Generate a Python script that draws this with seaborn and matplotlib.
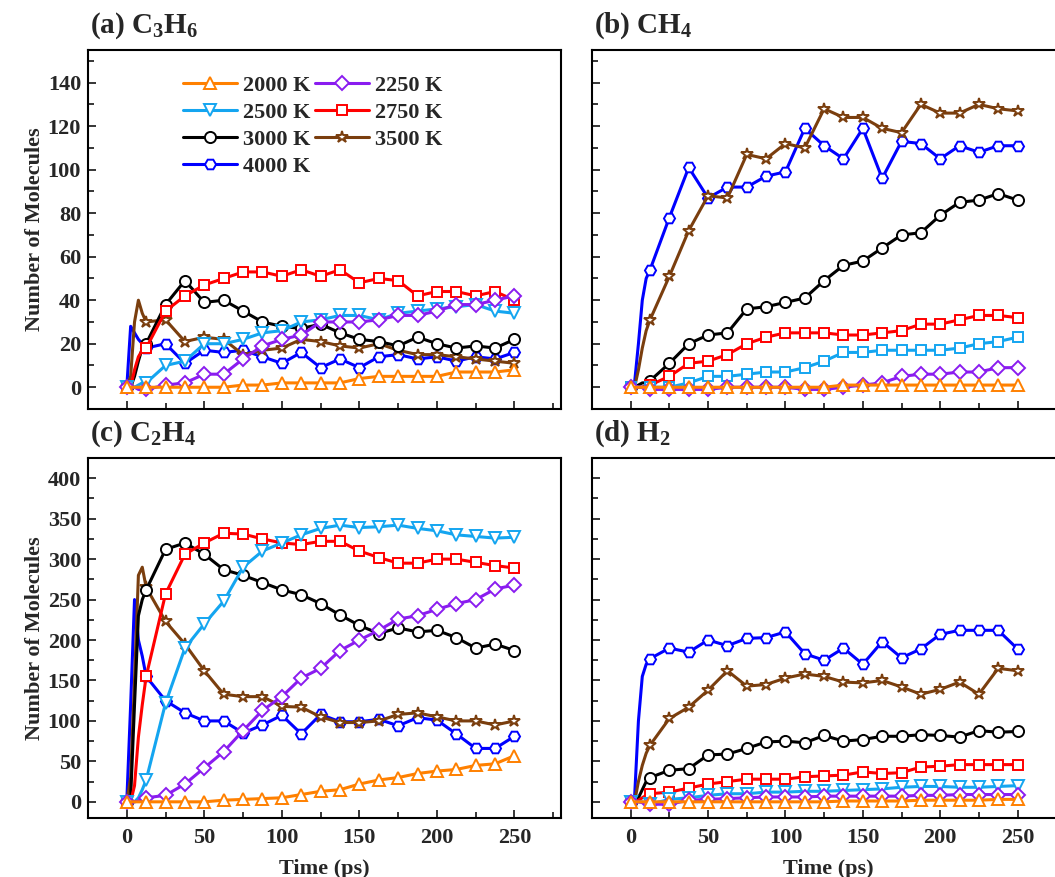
import numpy as np
import pandas as pd
import matplotlib
matplotlib.use("Agg")
import matplotlib.pyplot as plt
from matplotlib.lines import Line2D
from matplotlib.ticker import MultipleLocator
import seaborn as sns

sns.set_theme(style="ticks")
plt.rcParams['font.family'] = ['Liberation Serif', 'DejaVu Serif']
plt.rcParams['font.weight'] = 'bold'
plt.rcParams['mathtext.fontset'] = 'custom'
plt.rcParams['mathtext.rm'] = 'Liberation Serif:bold'
plt.rcParams['mathtext.it'] = 'Liberation Serif:bold'
plt.rcParams['mathtext.bf'] = 'Liberation Serif:bold'
plt.rcParams['mathtext.default'] = 'rm'

# ---------------- data ----------------
time_ps = [0, 2.5, 5, 7.5, 10, 12.5, 25, 37.5, 50, 62.5, 75, 87.5, 100, 112.5,
           125, 137.5, 150, 162.5, 175, 187.5, 200, 212.5, 225, 237.5, 250]
temperatures = ["2000 K", "2250 K", "2500 K", "2750 K", "3000 K", "3500 K", "4000 K"]
panel_titles = [r"(a) C$_3$H$_6$", r"(b) CH$_4$", r"(c) C$_2$H$_4$", r"(d) H$_2$"]

# (a) C3H6
c3h6_2000 = [0, 0, 0, 0, 0, 0, 0, 0, 0, 0, 1, 1, 2, 2, 2, 2, 4, 5, 5, 5, 5, 7, 7, 7, 8]
c3h6_2250 = [0, 0, 0, -1, -1, -1, 1, 2, 6, 6, 13, 19, 22, 24, 30, 30, 30, 31, 33, 33, 35, 38, 38, 40, 42]
c3h6_2500 = [0, 0, 0, 1, 2, 2, 10, 12, 20, 20, 22, 25, 26, 30, 31, 33, 33, 31, 34, 35, 36, 37, 38, 35, 34]
c3h6_2750 = [0, 0, 8, 14, 17, 18, 35, 42, 47, 50, 53, 53, 51, 54, 51, 54, 48, 50, 49, 42, 44, 44, 42, 44, 40]
c3h6_3000 = [0, 0, 5, 12, 18, 20, 38, 49, 39, 40, 35, 30, 28, 27, 29, 25, 22, 21, 19, 23, 20, 18, 19, 18, 22]
c3h6_3500 = [0, 5, 30, 40, 34, 30, 31, 21, 23, 22, 15, 17, 18, 22, 21, 19, 18, 20, 17, 15, 15, 14, 13, 12, 11]
c3h6_4000 = [0, 28, 25, 22, 20, 18, 20, 11, 17, 16, 17, 14, 11, 16, 9, 13, 9, 14, 15, 13, 14, 12, 14, 13, 16]

# (b) CH4
ch4_2000 = [0, 0, 0, 0, 0, 0, 0, 0, 0, 0, 0, 0, 0, 0, 0, 1, 1, 1, 1, 1, 1, 1, 1, 1, 1]
ch4_2250 = [0, 0, 0, 0, 0, -1, -1, -1, -1, 0, 0, 0, 0, -1, -1, 0, 1, 2, 5, 6, 6, 7, 7, 9, 9]
ch4_2500 = [0, 0, 0, 0, 0, 0, 0, 2, 5, 5, 6, 7, 7, 9, 12, 16, 16, 17, 17, 17, 17, 18, 20, 21, 23]
ch4_2750 = [0, 0, 0, 0, 1, 1, 5, 11, 12, 15, 20, 23, 25, 25, 25, 24, 24, 25, 26, 29, 29, 31, 33, 33, 32]
ch4_3000 = [0, 0, 1, 2, 2, 3, 11, 20, 24, 25, 36, 37, 39, 41, 49, 56, 58, 64, 70, 71, 79, 85, 86, 89, 86]
ch4_3500 = [0, 0, 8, 18, 26, 31, 51, 72, 88, 87, 107, 105, 112, 110, 128, 124, 124, 119, 117, 130, 126, 126, 130, 128, 127]
ch4_4000 = [0, 2, 20, 40, 50, 54, 78, 101, 87, 92, 92, 97, 99, 119, 111, 105, 119, 96, 113, 112, 105, 111, 108, 111, 111]

# (c) C2H4
c2h4_2000 = [0, 0, 0, 0, 0, 0, 0, 0, 0, 2, 3, 4, 5, 9, 13, 15, 22, 27, 30, 35, 38, 40, 45, 47, 57]
c2h4_2250 = [0, 0, 0, 1, 3, 5, 8, 22, 42, 62, 88, 113, 130, 153, 165, 187, 200, 212, 226, 230, 238, 245, 250, 263, 268]
c2h4_2500 = [0, 0, 0, 5, 15, 27, 122, 190, 220, 248, 290, 310, 320, 330, 338, 342, 339, 340, 342, 338, 335, 330, 328, 326, 327]
c2h4_2750 = [0, 0, 20, 80, 120, 155, 257, 306, 320, 332, 331, 325, 320, 318, 322, 322, 310, 302, 295, 295, 300, 300, 296, 292, 289]
c2h4_3000 = [0, 5, 120, 230, 250, 262, 312, 320, 306, 287, 280, 271, 262, 256, 245, 231, 218, 208, 215, 210, 212, 203, 190, 195, 187]
c2h4_3500 = [0, 30, 150, 280, 290, 265, 223, 195, 162, 133, 130, 130, 118, 117, 105, 98, 98, 100, 108, 110, 105, 100, 100, 95, 100]
c2h4_4000 = [0, 120, 250, 200, 180, 155, 125, 110, 100, 100, 85, 95, 107, 84, 108, 99, 99, 102, 94, 104, 101, 84, 66, 66, 81]

# (d) H2
h2_2000 = [0, 0, 0, 0, 0, 0, 0, 0, 0, 0, 0, 0, 0, 0, 0, 1, 1, 1, 1, 2, 2, 2, 2, 3, 3]
h2_2250 = [0, 0, 0, -1, -2, -3, -3, 2, 3, 4, 5, 6, 6, 6, 7, 7, 7, 7, 7, 8, 8, 9, 9, 9, 9]
h2_2500 = [0, 0, 0, 0, -2, -3, 3, 5, 8, 10, 10, 12, 12, 13, 13, 14, 15, 16, 18, 19, 19, 18, 18, 19, 20]
h2_2750 = [0, 0, 2, 5, 8, 10, 12, 17, 22, 25, 28, 28, 28, 31, 32, 33, 37, 35, 36, 43, 44, 46, 46, 46, 46]
h2_3000 = [0, 0, 5, 15, 25, 30, 39, 41, 58, 59, 66, 74, 75, 73, 82, 75, 77, 81, 81, 83, 82, 80, 88, 86, 87]
h2_3500 = [0, 0, 25, 45, 60, 70, 103, 117, 138, 162, 143, 145, 153, 158, 155, 148, 147, 150, 142, 133, 139, 148, 133, 165, 162]
h2_4000 = [0, 5, 100, 155, 170, 177, 190, 185, 200, 193, 202, 203, 210, 183, 175, 190, 170, 198, 178, 189, 207, 212, 212, 212, 189]

panel_data = [
    [c3h6_2000, c3h6_2250, c3h6_2500, c3h6_2750, c3h6_3000, c3h6_3500, c3h6_4000],
    [ch4_2000, ch4_2250, ch4_2500, ch4_2750, ch4_3000, ch4_3500, ch4_4000],
    [c2h4_2000, c2h4_2250, c2h4_2500, c2h4_2750, c2h4_3000, c2h4_3500, c2h4_4000],
    [h2_2000, h2_2250, h2_2500, h2_2750, h2_3000, h2_3500, h2_4000],
]

# ---------------- style ----------------
colors = ["#FF8000", "#8A1CF0", "#14A5F0", "#FF0000", "#000000", "#7A3E0E", "#0000FF"]
markers = ["^", "D", "v", "s", "o", "*", "H"]
msizes = [8, 7, 8, 7, 8, 9, 8]
markevery = [0] + list(range(5, len(time_ps)))
draw_order = [6, 5, 4, 3, 2, 1, 0]
FS = 16

fig = plt.figure(figsize=(10.55, 8.77), dpi=100)
W, H = 1055, 877
boxes = [(88, 50, 561, 409), (592, 50, 1064, 409), (88, 458, 561, 818), (592, 458, 1064, 818)]
axes = []
for (l, t, r, b) in boxes:
    axes.append(fig.add_axes([l / W, 1 - b / H, (r - l) / W, (b - t) / H]))

ylims = [(-10, 155), (-10, 155), (-20, 425), (-20, 425)]
ymaj = [20, 20, 50, 50]
ymin = [10, 10, 25, 25]

for p, ax in enumerate(axes):
    for i in draw_order:
        m = markers[i]
        if p == 1 and i == 2:
            m = "s"
        sns.lineplot(x=time_ps, y=panel_data[p][i], ax=ax, color=colors[i], lw=2.2,
                     marker=m, markersize=msizes[i] if m != "s" else 7,
                     markerfacecolor="white", markeredgecolor=colors[i],
                     markeredgewidth=1.4, markevery=markevery, legend=False,
                     estimator=None, sort=False)
    ax.set_xlim(-25, 280)
    ax.set_ylim(*ylims[p])
    ax.xaxis.set_major_locator(MultipleLocator(50))
    ax.xaxis.set_minor_locator(MultipleLocator(25))
    ax.yaxis.set_major_locator(MultipleLocator(ymaj[p]))
    ax.yaxis.set_minor_locator(MultipleLocator(ymin[p]))
    ax.tick_params(which="both", direction="in", top=False, right=False,
                   labelsize=FS, width=1.3)
    ax.tick_params(which="major", length=6)
    ax.tick_params(axis="y", which="major", pad=5)
    ax.tick_params(axis="x", which="major", pad=7)
    ax.tick_params(which="minor", length=4)
    for s in ax.spines.values():
        s.set_linewidth(1.5)
        s.set_color("black")
    for lab in ax.get_xticklabels() + ax.get_yticklabels():
        lab.set_fontweight("bold")
    ax.set_xlabel("")
    ax.set_ylabel("")
    ax.text(0.005, 1.025, panel_titles[p], transform=ax.transAxes, fontsize=21,
            fontweight="bold", ha="left", va="bottom")
    if p in (0, 1):
        ax.tick_params(labelbottom=False)
    else:
        ax.set_xlabel("Time (ps)", fontsize=FS, fontweight="bold", labelpad=8)
    if p in (1, 3):
        ax.tick_params(labelleft=False)
    else:
        ax.set_ylabel("Number of Molecules", fontsize=FS, fontweight="bold", labelpad=2)

# legend in panel (a), row-wise order
handles = []
for i in range(7):
    handles.append(Line2D([0], [0], color=colors[i], lw=2.2, marker=markers[i],
                          markersize=msizes[i], markerfacecolor="white",
                          markeredgecolor=colors[i], markeredgewidth=1.4))
order = [0, 2, 4, 6, 1, 3, 5]
leg = axes[0].legend([handles[k] for k in order], [temperatures[k] for k in order],
                     ncol=2, loc="upper left", bbox_to_anchor=(0.182, 0.955),
                     borderaxespad=0, frameon=False, handlelength=2.45,
                     handletextpad=0.25, columnspacing=0.2, labelspacing=0.3,
                     prop={"size": FS, "weight": "bold"})

fig.savefig("out.png", dpi=100)
